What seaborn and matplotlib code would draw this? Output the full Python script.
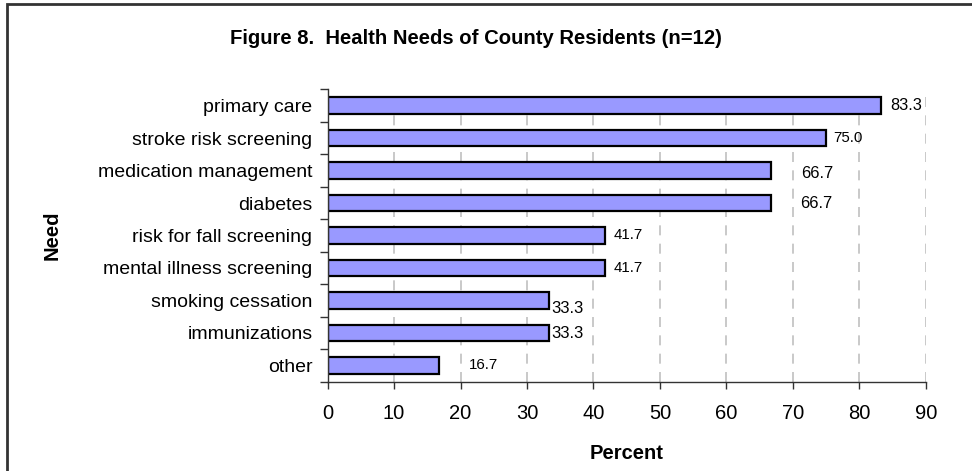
import numpy as np
import pandas as pd
import seaborn as sns
import matplotlib.pyplot as plt
from matplotlib.patches import Rectangle
from matplotlib.ticker import FixedLocator

needs = [
    "primary care",
    "stroke risk screening",
    "medication management",
    "diabetes",
    "risk for fall screening",
    "mental illness screening",
    "smoking cessation",
    "immunizations",
    "other",
]
percent = [83.3, 75.0, 66.7, 66.7, 41.7, 41.7, 33.3, 33.3, 16.7]
value_labels = ["83.3", "75.0", "66.7", "66.7", "41.7", "41.7", "33.3", "33.3", "16.7"]

# label placement quirks of the original (x gap in data units, y shift in rows, font size)
label_dx = [1.3, 1.1, 4.6, 4.4, 1.3, 1.3, 0.4, 0.4, 4.5]
label_dy = [0.0, 0.0, 0.08, 0.0, 0.0, 0.0, 0.25, 0.02, 0.0]
label_size = [11.8, 10.8, 11.8, 11.8, 10.8, 10.8, 12, 12, 10.8]

df = pd.DataFrame({"Need": needs, "Percent": percent})

sns.set_theme(style="white")
plt.rcParams["font.family"] = ["Liberation Sans", "DejaVu Sans"]
plt.rcParams["text.color"] = "black"
plt.rcParams["xtick.color"] = "black"
plt.rcParams["ytick.color"] = "black"
plt.rcParams["axes.labelcolor"] = "black"

fig = plt.figure(figsize=(9.72, 4.71), dpi=100)
ax = fig.add_axes([0.3371, 0.1896, 0.9524 - 0.3371, 0.8104 - 0.1896])

sns.barplot(data=df, x="Percent", y="Need", orient="h", color="#9999FF",
            saturation=1, width=0.5, edgecolor="black", linewidth=1.6, ax=ax)

ax.set_xlim(0, 90)
ax.set_ylim(len(needs) - 0.5, -0.5)
ax.set_xticks(np.arange(0, 91, 10))
ax.tick_params(axis="x", labelsize=14.5, length=5, width=1, color="#333333",
               direction="out", pad=11, bottom=True)
ax.tick_params(axis="y", which="major", length=0, labelsize=14, pad=11)
ax.yaxis.set_minor_locator(FixedLocator(np.arange(-0.5, len(needs), 1)))
ax.tick_params(axis="y", which="minor", length=6, width=1, color="#333333", left=True)

for x in range(10, 91, 10):
    ax.axvline(x, color="#C0C0C0", lw=1.2, ls=(0, (6, 5)), zorder=0)

for s in ["top", "right"]:
    ax.spines[s].set_visible(False)
for s in ["left", "bottom"]:
    ax.spines[s].set_color("#333333")
    ax.spines[s].set_linewidth(1)

for i, (v, lab) in enumerate(zip(percent, value_labels)):
    ax.text(v + label_dx[i], i + label_dy[i], lab, ha="left", va="center",
            fontsize=label_size[i], color="black")

ax.set_xlabel("Percent", fontsize=14.5, fontweight="bold", labelpad=15)
ax.set_ylabel("")
fig.text(0.054, 0.5, "Need", rotation=90, ha="center", va="center",
         fontsize=14.5, fontweight="bold")

fig.text(0.4897, 0.918, "Figure 8.  Health Needs of County Residents (n=12)",
         ha="center", va="center", fontsize=14.6, fontweight="bold")

fig.patches.append(Rectangle((7 / 972, -0.05), 1.0, 1 - 4 / 471 + 0.05,
                             transform=fig.transFigure, fill=False,
                             edgecolor="#333333", lw=2))

plt.savefig("out.png", dpi=100)
